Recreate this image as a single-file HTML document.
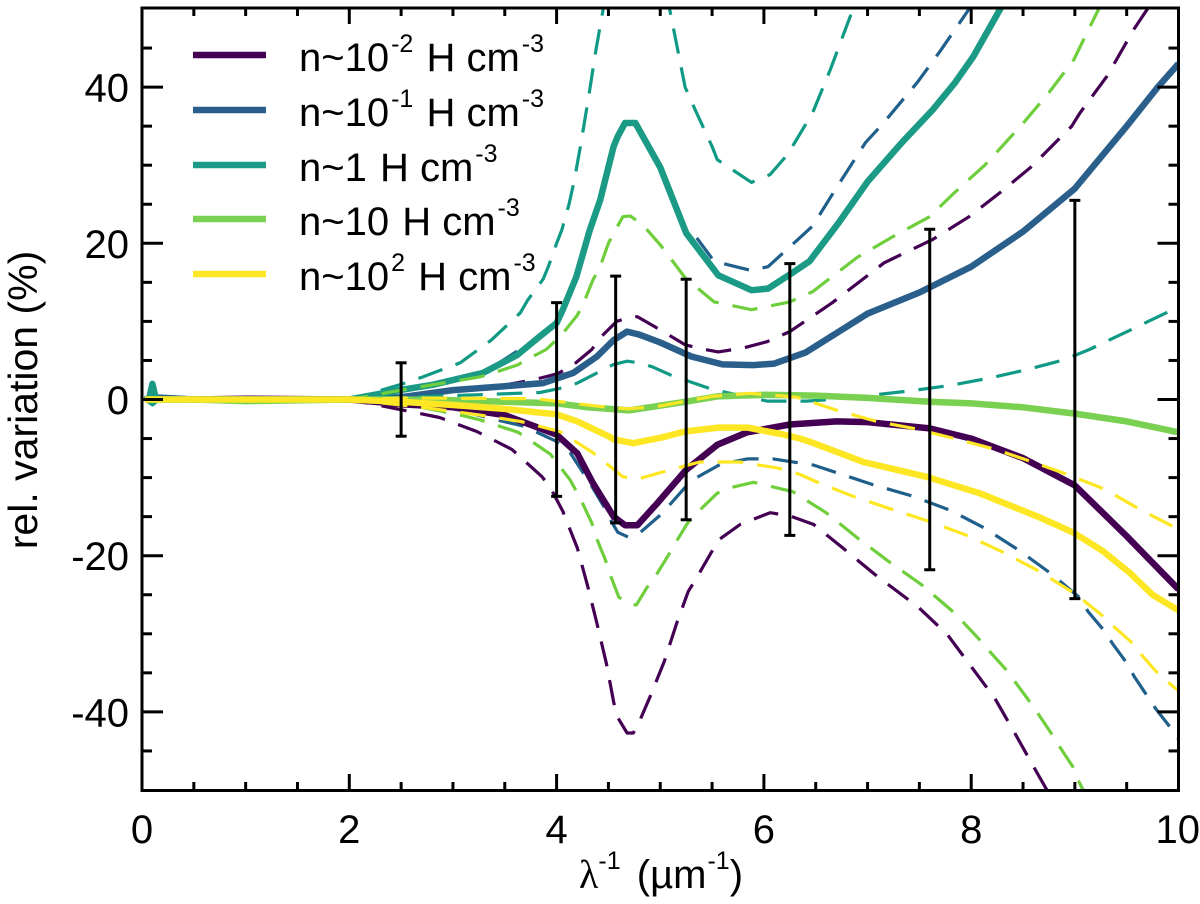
<!DOCTYPE html>
<html>
<head>
<meta charset="utf-8">
<title>Relative variation chart</title>
<style>
html,body{margin:0;padding:0;background:#fff;}
svg{display:block;}
text{font-family:"Liberation Sans",sans-serif;fill:#000;font-size:40px;}
.sup{font-size:25px;}
</style>
</head>
<body>
<svg id="chart" width="1200" height="904" viewBox="0 0 1200 904" xmlns="http://www.w3.org/2000/svg">
<defs><clipPath id="plot-clip"><rect x="142" y="8" width="1036.5" height="782.5"/></clipPath></defs>
<g id="series-layer" clip-path="url(#plot-clip)"></g>
<g id="errorbar-layer"></g>
<rect x="142" y="8" width="1036.5" height="782.5" fill="none" stroke="#000" stroke-width="3"/>
<g id="tick-layer"></g>
<g id="label-layer"></g>
<text transform="translate(37,400) rotate(-90)" text-anchor="middle" style="font-size:41px">rel. variation (%)</text>
<text x="579" y="888"><tspan font-family="Liberation Serif">λ</tspan><tspan class="sup" dy="-19">-1</tspan><tspan dy="19" dx="5"> (µm</tspan><tspan class="sup" dy="-19" dx="1">-1</tspan><tspan dy="19">)</tspan></text>
<g>
<g><line x1="193" x2="266" y1="55" y2="55" stroke="#440154" stroke-width="6.5"/><text x="299" y="71">n~10<tspan class="sup" dy="-19" dx="2">-2</tspan><tspan dy="19" dx="2"> H cm</tspan><tspan class="sup" dy="-19" dx="2">-3</tspan></text></g>
<g><line x1="193" x2="266" y1="110" y2="110" stroke="#2a5f8c" stroke-width="6.5"/><text x="299" y="126">n~10<tspan class="sup" dy="-19" dx="2">-1</tspan><tspan dy="19" dx="2"> H cm</tspan><tspan class="sup" dy="-19" dx="2">-3</tspan></text></g>
<g><line x1="193" x2="266" y1="165" y2="165" stroke="#1b9a85" stroke-width="6.5"/><text x="299" y="181">n~1<tspan dx="2"> H cm</tspan><tspan class="sup" dy="-19" dx="2">-3</tspan></text></g>
<g><line x1="193" x2="266" y1="219" y2="219" stroke="#7ad151" stroke-width="6.5"/><text x="299" y="235">n~10<tspan dx="2"> H cm</tspan><tspan class="sup" dy="-19" dx="2">-3</tspan></text></g>
<g><line x1="193" x2="266" y1="274" y2="274" stroke="#fde725" stroke-width="6.5"/><text x="299" y="290">n~10<tspan class="sup" dy="-19" dx="2">2</tspan><tspan dy="19" dx="2"> H cm</tspan><tspan class="sup" dy="-19" dx="2">-3</tspan></text></g>
</g>
</svg>
<script>
// Tick values
const xMajorTicks = [0, 2, 4, 6, 8, 10];
const xMinorTicks = [0.5, 1, 1.5, 2.5, 3, 3.5, 4.5, 5, 5.5, 6.5, 7, 7.5, 8.5, 9, 9.5];
const yMajorTicks = [-40, -20, 0, 20, 40];
const yMinorTicks = [-45, -35, -30, -25, -15, -10, -5, 5, 10, 15, 25, 30, 35, 45];
const xTickLabels = ["0", "2", "4", "6", "8", "10"];
const yTickLabels = ["-40", "-20", "0", "20", "40"];

// Error bars
const errX = [2.5, 4, 4.57, 5.25, 6.25, 7.6, 9];
const errHalf = [4.7, 12.4, 15.8, 15.4, 17.4, 21.8, 25.5];

// n~10^-2
const purpleX = [0.03, 0.1, 0.5, 1, 2, 2.5, 3, 3.5, 4, 4.2, 4.35, 4.55, 4.66, 4.78, 4.97, 5.25, 5.55, 5.84, 6.25, 6.7, 7, 7.6, 8, 8.5, 9, 9.5, 10];
const purpleY = [0, 0.2, 0, 0.1, 0, -0.6, -1, -2, -4.5, -6.9, -10.7, -15, -16.1, -16.1, -13.3, -9, -5.8, -4.2, -3.2, -2.8, -2.9, -3.7, -5, -7.5, -11, -17.5, -24.3];
const purpleUpX = [0.03, 2, 2.65, 3.39, 3.77, 4.01, 4.15, 4.34, 4.42, 4.58, 4.72, 4.78, 4.95, 5.24, 5.43, 5.56, 5.8, 6.03, 6.25, 6.66, 7.16, 7.63, 7.98, 8.28, 8.58, 8.97, 9.05, 9.31, 9.57, 9.7, 10];
const purpleUpY = [0, 0, 0.6, 1.6, 2.5, 3.3, 4.3, 6.4, 7.9, 10, 10.6, 10.6, 9.3, 7, 6.4, 6.1, 6.6, 7.4, 8.7, 12.4, 17.5, 20.5, 23.4, 26.5, 29.8, 35, 36.7, 41.4, 47.4, 50, 58];
const purpleLowX = [0.03, 2, 2.65, 2.87, 3.23, 3.57, 3.86, 3.94, 4.06, 4.11, 4.2, 4.3, 4.39, 4.48, 4.55, 4.58, 4.68, 4.74, 4.8, 4.9, 5.04, 5.16, 5.27, 5.37, 5.5, 5.56, 5.77, 6.06, 6.25, 6.48, 6.76, 7.07, 7.49, 7.77, 8, 8.23, 8.42, 8.61, 8.73, 9];
const purpleLowY = [0, 0, -1.7, -2.3, -4.1, -6.4, -9.9, -11.3, -14.3, -16, -19, -23.9, -28.7, -33.8, -38.7, -40.5, -42.7, -42.7, -41.2, -38.1, -33.5, -28.6, -24.6, -22.4, -19.4, -18, -16, -14.5, -14.9, -16, -19, -22.4, -26.6, -30.1, -34.2, -38.3, -42.7, -47.2, -50, -56];

// n~10^-1
const blueX = [0.03, 0.1, 0.5, 1, 2, 2.5, 3, 3.5, 3.87, 4.16, 4.39, 4.55, 4.68, 4.8, 5, 5.3, 5.6, 5.9, 6.1, 6.4, 6.7, 7, 7.5, 8, 8.5, 9, 9.5, 9.8, 10];
const blueY = [0, 0.3, 0, 0, 0, 0.3, 1.2, 1.7, 2.1, 3.4, 5.5, 7.6, 8.7, 8.3, 7.3, 5.5, 4.5, 4.4, 4.6, 6, 8.5, 11, 13.7, 17, 21.5, 27, 35, 40, 43];
const blueUpX = [0.03, 2, 2.5, 2.81, 3.29, 3.54, 3.84, 4, 4.19, 4.32, 4.42, 4.55, 4.59, 4.66, 4.76, 5, 5.25, 5.29, 5.52, 5.88, 6.04, 6.47, 6.69, 6.98, 7.14, 7.48, 7.7, 7.98, 8.2];
const blueUpY = [0, 0, 1.2, 1.9, 3.4, 5.5, 8.1, 9.8, 15.7, 21.7, 25.5, 32.4, 33.7, 35.4, 35.4, 29.7, 21.3, 21.8, 17.7, 16.5, 17, 22.2, 26.9, 32.9, 35.2, 40.6, 44.6, 50, 54];
const blueLowX = [0.03, 2, 2.5, 3, 3.42, 3.68, 3.99, 4.13, 4.33, 4.46, 4.52, 4.59, 4.69, 4.8, 5, 5.09, 5.25, 5.35, 5.58, 5.84, 6.09, 6.48, 7.05, 7.44, 7.8, 8.12, 8.45, 8.76, 9.05, 9.13, 9.29, 9.36, 9.51, 9.57, 9.71, 9.78, 9.94, 10];
const blueLowY = [0, 0, -0.4, -1.2, -2.6, -3.4, -5.3, -6.8, -10.9, -13.8, -15.4, -17, -17.6, -17.1, -14.8, -13.5, -11.1, -10, -8.3, -7.6, -7.6, -8.4, -10.9, -12.4, -14.2, -16.4, -19.2, -22.2, -25.4, -27.2, -29.7, -31.2, -33.9, -35.4, -38.2, -39.6, -42.3, -43.5];

// n~1
const tealX = [0.03, 0.07, 0.1, 0.13, 0.17, 0.5, 1, 2, 2.49, 2.81, 3.29, 3.62, 3.84, 4, 4.06, 4.19, 4.32, 4.42, 4.55, 4.59, 4.66, 4.76, 5, 5.25, 5.56, 5.88, 6.04, 6.25, 6.44, 6.72, 7, 7.33, 7.63, 7.84, 8.02, 8.28, 8.4];
const tealY = [0, 0.2, 2, 0.3, 0, 0, 0, 0, 1.2, 1.9, 3.4, 5.7, 8.1, 9.8, 11.5, 15.7, 21.7, 25.5, 32.4, 33.7, 35.4, 35.4, 29.7, 21.3, 15.9, 14, 14.2, 16, 17.7, 22.6, 27.9, 32.9, 37.1, 40.5, 43.9, 50, 53];
const tealUpX = [0.03, 2, 2.49, 2.71, 3.07, 3.37, 3.65, 3.72, 3.87, 3.92, 4, 4.05, 4.12, 4.17, 4.23, 4.31, 4.38, 4.45, 4.7, 4.9, 5.09, 5.15, 5.24, 5.34, 5.5, 5.55, 5.88, 6.06, 6.23, 6.47, 6.64, 6.86, 7];
const tealUpY = [0, 0, 1.9, 2.9, 4.7, 7.6, 11.1, 12.7, 15.4, 17, 20, 21.7, 25, 28, 32.4, 38.8, 44.8, 50, 68, 60, 50, 46, 40, 37, 32.4, 30.7, 27.8, 28.8, 31.4, 36.7, 42.2, 50, 56];
const tealLowX = [0.03, 0.1, 0.17, 2, 2.5, 3, 3.84, 4.06, 4.2, 4.42, 4.55, 4.68, 4.8, 4.92, 5.14, 5.28, 5.5, 5.64, 6.03, 6.25, 6.41, 6.64, 7, 7.41, 7.8, 8.16, 8.53, 8.9, 9.14, 9.49, 9.96, 10];
const tealLowY = [0, -0.7, 0, 0, 0.3, 0.5, 0.9, 1.5, 2.1, 3.6, 4.5, 4.9, 4.7, 4.2, 2.9, 2.3, 1.3, 0.9, -0.2, -0.2, -0.2, 0, 0.5, 1.1, 1.8, 2.7, 3.8, 5.1, 6.4, 8.6, 11.6, 11.7];

// n~10
const greenX = [0.03, 0.5, 1, 2, 2.5, 3, 3.5, 4, 4.3, 4.7, 5.24, 5.55, 6, 6.5, 7, 7.6, 8, 8.5, 9, 9.5, 10];
const greenY = [0, 0, -0.2, 0, 0, -0.1, -0.3, -0.5, -1, -1.4, -0.3, 0.4, 0.6, 0.5, 0.2, -0.3, -0.5, -1, -1.8, -2.8, -4.2];
const greenUpX = [0.03, 2, 2.63, 3.26, 3.39, 3.62, 3.74, 3.9, 4.05, 4.2, 4.26, 4.35, 4.42, 4.5, 4.58, 4.64, 4.71, 4.83, 5, 5.24, 5.52, 5.88, 6.25, 6.47, 6.9, 7.25, 7.6, 7.84, 8.13, 8.49, 8.75, 8.99, 9.1, 9.23, 9.4];
const greenUpY = [0, 0, 1.5, 2.9, 3.4, 4.4, 5.3, 6.4, 8.3, 10.8, 12.3, 15.3, 17, 20, 22, 23.4, 23.5, 22.4, 19.8, 15.6, 12.5, 11.5, 12.5, 13.8, 18.2, 20.9, 23.4, 26.5, 30, 35.2, 39.3, 43.5, 46.5, 50, 55];
const greenLowX = [0.03, 2, 2.65, 3.04, 3.26, 3.63, 3.94, 4.13, 4.23, 4.34, 4.38, 4.47, 4.51, 4.6, 4.71, 4.77, 4.87, 4.95, 5.08, 5.15, 5.27, 5.37, 5.55, 5.67, 5.9, 6.28, 6.6, 6.9, 7.2, 7.52, 7.81, 7.9, 8.07, 8.16, 8.33, 8.41, 8.56, 8.64, 8.77, 8.84, 8.98, 9.03, 9.08, 9.3];
const greenLowY = [0, 0, -0.9, -1.9, -2.6, -4.2, -7, -10.3, -12.7, -15.8, -17.6, -20.5, -22.2, -25.3, -26.3, -26.3, -24.1, -22.7, -19.9, -18.3, -15.7, -14.3, -12, -11.3, -10.6, -11.8, -14.5, -17.7, -20.7, -23.7, -27, -28.2, -30.6, -32, -34.5, -35.9, -38.6, -40.1, -42.7, -44.2, -47, -48.7, -50, -56];

// n~10^2
const yellowX = [0.03, 0.1, 0.5, 1, 2, 2.5, 3, 3.5, 4, 4.2, 4.5, 4.55, 4.74, 5, 5.24, 5.56, 5.84, 6.16, 6.35, 6.48, 6.96, 7.57, 8.08, 8.66, 8.98, 9.27, 9.53, 9.75, 10];
const yellowY = [0, 0, 0, 0, 0, -0.3, -0.7, -1.2, -1.9, -2.8, -4.7, -5.1, -5.6, -4.9, -4.1, -3.6, -3.6, -4.4, -5, -5.6, -8, -9.9, -12, -15.1, -17, -19.4, -22.2, -25, -27];
const yellowUpX = [0.03, 2, 2.6, 3.8, 4.49, 4.69, 4.97, 5.5, 5.86, 6.32, 6.73, 7.09, 7.48, 7.84, 8.21, 8.57, 8.93, 9.29, 9.63, 9.97, 10];
const yellowUpY = [0, 0, 0.2, 0.1, -1, -1.2, -0.9, 0.4, 0.8, 0.3, -1.5, -2.8, -3.8, -5, -6.3, -7.9, -9.6, -11.5, -14.1, -16.4, -16.6];
const yellowLowX = [0.03, 2, 2.65, 3.26, 3.65, 4.03, 4.35, 4.64, 4.78, 5.02, 5.38, 5.77, 6.14, 6.35, 6.5, 6.86, 7.22, 7.57, 7.94, 8.3, 8.63, 8.98, 9.08, 9.26, 9.36, 9.54, 9.63, 9.79, 9.9, 10];
const yellowLowY = [0, 0, -0.9, -2, -2.8, -4.1, -6.8, -9.9, -10.2, -9.3, -8, -8, -8.8, -9.6, -10.5, -12.4, -14, -15.5, -17.3, -19.5, -21.8, -24.7, -25.7, -27.6, -28.9, -31, -32.5, -34.9, -36.2, -37.3];

const NS = "http://www.w3.org/2000/svg";
const sx = v => 142 + v * 103.65;
const sy = v => 399.5 - v * 7.81;

function mk(tag, parent) {
  const el = document.createElementNS(NS, tag);
  parent.appendChild(el);
  return el;
}

function drawLine(xs, ys, color, width, dashed, name) {
  const el = mk("polyline", document.getElementById("series-layer"));
  el.setAttribute("points", xs.map((x, i) => sx(x).toFixed(1) + "," + sy(ys[i]).toFixed(1)).join(" "));
  el.setAttribute("fill", "none");
  el.setAttribute("stroke", color);
  el.setAttribute("stroke-width", width);
  el.setAttribute("stroke-linejoin", "round");
  if (dashed) el.setAttribute("stroke-dasharray", "25.5 14");
  
  
}

drawLine(purpleUpX, purpleUpY, "#440154", 3.2, true, "n-0.01-upper-dashed");
drawLine(purpleLowX, purpleLowY, "#440154", 3.2, true, "n-0.01-lower-dashed");
drawLine(blueUpX, blueUpY, "#1f5f8b", 3.2, true, "n-0.1-upper-dashed");
drawLine(blueLowX, blueLowY, "#1f5f8b", 3.2, true, "n-0.1-lower-dashed");
drawLine(purpleX, purpleY, "#440154", 6.5, false, "n-0.01-line");
drawLine(blueX, blueY, "#2a5f8c", 6.5, false, "n-0.1-line");
drawLine(tealUpX, tealUpY, "#109a85", 3.2, true, "n-1-upper-dashed");
drawLine(tealLowX, tealLowY, "#109a85", 3.2, true, "n-1-lower-dashed");
drawLine(tealX, tealY, "#1b9a85", 6.5, false, "n-1-line");
drawLine(greenUpX, greenUpY, "#6fce3c", 3.2, true, "n-10-upper-dashed");
drawLine(greenLowX, greenLowY, "#6fce3c", 3.2, true, "n-10-lower-dashed");
drawLine(greenX, greenY, "#7ad151", 6.5, false, "n-10-line");
drawLine(yellowX, yellowY, "#fde725", 6.5, false, "n-100-line");
drawLine(yellowUpX, yellowUpY, "#fde725", 3.2, true, "n-100-upper-dashed");
drawLine(yellowLowX, yellowLowY, "#fde725", 3.2, true, "n-100-lower-dashed");

const errLayer = document.getElementById("errorbar-layer");
errX.forEach((x, i) => {
  const seg = (x1, y1, x2, y2, nm) => {
    const l = mk("line", errLayer);
    l.setAttribute("x1", x1);
    l.setAttribute("y1", y1);
    l.setAttribute("x2", x2);
    l.setAttribute("y2", y2);
    l.setAttribute("stroke", "#000");
    l.setAttribute("stroke-width", 3);
    
    
  };
  const px = sx(x), top = sy(errHalf[i]), bot = sy(-errHalf[i]);
  seg(px, top, px, bot, "error-bar-stem");
  seg(px - 5.5, top, px + 5.5, top, "error-bar-cap-top");
  seg(px - 5.5, bot, px + 5.5, bot, "error-bar-cap-bottom");
});

const tickLayer = document.getElementById("tick-layer");
function tick(x1, y1, x2, y2) {
  const l = mk("line", tickLayer);
  l.setAttribute("x1", x1);
  l.setAttribute("y1", y1);
  l.setAttribute("x2", x2);
  l.setAttribute("y2", y2);
  l.setAttribute("stroke", "#000");
  l.setAttribute("stroke-width", 3);
  
  
}
xMajorTicks.forEach(v => { tick(sx(v), 790, sx(v), 774); tick(sx(v), 8, sx(v), 24); });
xMinorTicks.forEach(v => { tick(sx(v), 790, sx(v), 782); tick(sx(v), 8, sx(v), 16); });
yMajorTicks.forEach(v => { tick(142, sy(v), 163, sy(v)); tick(1178.5, sy(v), 1157.5, sy(v)); });
yMinorTicks.forEach(v => { tick(142, sy(v), 152, sy(v)); tick(1178.5, sy(v), 1168.5, sy(v)); });

const labelLayer = document.getElementById("label-layer");
xMajorTicks.forEach((v, i) => {
  const t = mk("text", labelLayer);
  t.setAttribute("x", sx(v));
  t.setAttribute("y", 843);
  t.setAttribute("text-anchor", i === 5 ? "end" : "middle");
  if (i === 5) t.setAttribute("x", 1200);
  t.textContent = xTickLabels[i];
  
  
});
yMajorTicks.forEach((v, i) => {
  const t = mk("text", labelLayer);
  t.setAttribute("x", 129);
  t.setAttribute("y", sy(v) + 14.5);
  t.setAttribute("text-anchor", "end");
  t.textContent = yTickLabels[i];
  
  
});
</script>
</body>
</html>
